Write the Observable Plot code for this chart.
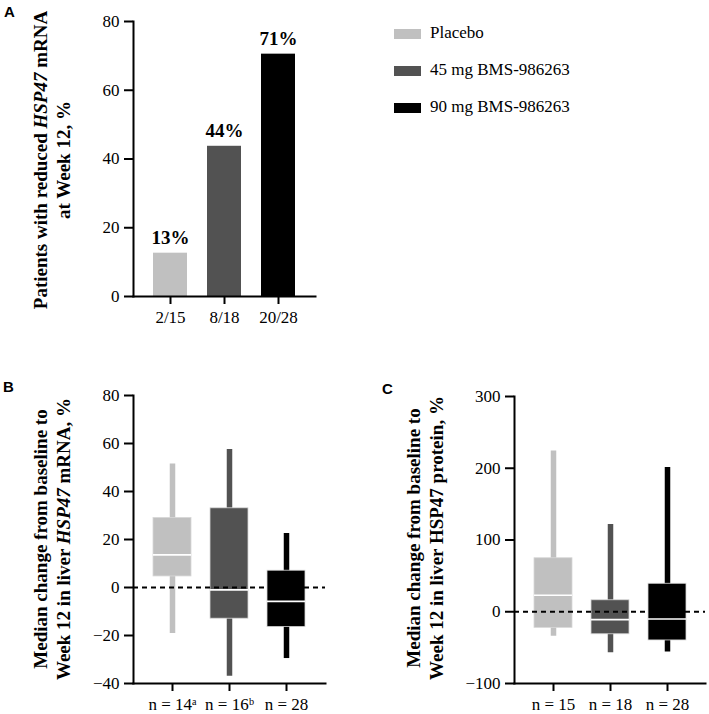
<!DOCTYPE html>
<html>
<head>
<meta charset="utf-8">
<script src="https://cdn.jsdelivr.net/npm/d3@7"></script>
<script src="https://cdn.jsdelivr.net/npm/@observablehq/plot@0.6"></script>
<style>
  body { margin: 0; background: #fff; }
  #root { position: relative; width: 709px; height: 714px; overflow: hidden; font-family: "Liberation Serif", serif; color: #000; }
  #root svg { font-family: "Liberation Serif", serif !important; font-size: 17px !important; color: #000 !important; overflow: visible; }
  .panel { position: absolute; }
  .ylab { position: absolute; text-align: center; transform: rotate(-90deg); transform-origin: center; font-family: "Liberation Serif", serif; font-weight: bold; white-space: nowrap; color: #000; }
  .letter { position: absolute; font-family: "Liberation Sans", Arial, sans-serif; font-weight: bold; font-size: 15px; }
  .leg { position: absolute; left: 394px; font-size: 17px; font-family: "Liberation Serif", serif; }
  .leg span.sw { position: absolute; left: 0; width: 27px; height: 10px; }
  .leg span.tx { position: absolute; left: 36px; white-space: nowrap; line-height: 20px; }
</style>
</head>
<body>
<div id="root"></div>
<script>
// ---- data ----
const groups = ["Placebo", "45 mg BMS-986263", "90 mg BMS-986263"];
const groupColors = ["#c0c0c0", "#525252", "#000000"];

// Panel A
const aCategories = ["2/15", "8/18", "20/28"];
const aValues = [12.6, 43.7, 70.5];
const aLabels = ["13%", "44%", "71%"];
const aTicks = [0, 20, 40, 60, 80];

// Panel B (HSP47 mRNA)
const bCategories = ["n = 14\u1d43", "n = 16\u1d47", "n = 28"];
const bMin = [-19.2, -37, -29.6];
const bQ1 = [4.6, -13, -16.5];
const bMed = [13.6, -1, -5.8];
const bQ3 = [29, 33, 7];
const bMax = [51.5, 57.5, 22.5];
const bTicks = [-40, -20, 0, 20, 40, 60, 80];

// Panel C (HSP47 protein)
const cCategories = ["n = 15", "n = 18", "n = 28"];
const cMin = [-34, -57, -56];
const cQ1 = [-22.5, -31.4, -40];
const cMed = [23, -11, -10];
const cQ3 = [74.6, 16, 39];
const cMax = [224, 121.5, 201];
const cTicks = [-100, 0, 100, 200, 300];

const root = document.getElementById("root");
const baseStyle = { background: "transparent", overflow: "visible" };

function place(el, left, top) {
  const d = document.createElement("div");
  d.className = "panel";
  d.style.left = left + "px";
  d.style.top = top + "px";
  d.appendChild(el);
  root.appendChild(d);
}

// ---- Panel A ----
const aData = aCategories.map((c, i) => ({ cat: c, value: aValues[i], label: aLabels[i], group: groups[i] }));
const plotA = Plot.plot({
  width: 330, height: 340,
  marginLeft: 133, marginRight: 15, marginTop: 21, marginBottom: 44,
  style: baseStyle,
  x: { type: "band", domain: aCategories, paddingInner: 0.376, paddingOuter: 0.36 },
  y: { domain: [0, 80] },
  color: { domain: groups, range: groupColors },
  marks: [
    Plot.barY(aData, { x: "cat", y: "value", fill: "group" }),
    Plot.text(aData, { x: "cat", y: "value", text: "label", dy: -9, lineAnchor: "bottom", fontWeight: "bold", fontSize: 19, fill: "#000" }),
    Plot.axisY({ ticks: aTicks, tickSize: 9, tickPadding: 5, strokeWidth: 2, label: null }),
    Plot.axisX({ tickSize: 8, tickPadding: 6, strokeWidth: 2, label: null }),
    Plot.frame({ anchor: "left", strokeWidth: 2 }),
    Plot.frame({ anchor: "bottom", strokeWidth: 2 })
  ]
});
place(plotA, 0, 0);

// ---- Box panels ----
function boxPanel(cats, mins, q1s, meds, q3s, maxs, ticks, domain, opts) {
  const data = cats.map((c, i) => ({ cat: c, min: mins[i], q1: q1s[i], med: meds[i], q3: q3s[i], max: maxs[i], group: groups[i] }));
  return Plot.plot({
    width: opts.width, height: opts.height,
    marginLeft: opts.marginLeft, marginRight: opts.marginRight, marginTop: opts.marginTop, marginBottom: opts.marginBottom,
    style: baseStyle,
    x: { type: "band", domain: cats, paddingInner: 0.34, paddingOuter: 0.34 },
    y: { domain },
    color: { domain: groups, range: groupColors },
    marks: [
      Plot.ruleX(data, { x: "cat", y1: "min", y2: "max", stroke: "group", strokeWidth: 5.5 }),
      Plot.barY(data, { x: "cat", y1: "q1", y2: "q3", fill: "group", stroke: "#d8d8d8", strokeWidth: 0.8 }),
      Plot.ruleY([0], { stroke: "#000", strokeWidth: 2, strokeDasharray: "5,4" }),
      Plot.tickY(data, { x: "cat", y: "med", stroke: "#fff", strokeWidth: 1.6 }),
      Plot.axisY({ ticks, tickSize: 9, tickPadding: 5, strokeWidth: 2, label: null }),
      Plot.axisX({ tickSize: 8, tickPadding: 6, strokeWidth: 2, label: null }),
      Plot.frame({ anchor: "left", strokeWidth: 2 }),
      Plot.frame({ anchor: "bottom", strokeWidth: 2 })
    ]
  });
}

const plotB = boxPanel(bCategories, bMin, bQ1, bMed, bQ3, bMax, bTicks, [-40, 80],
  { width: 335, height: 354, marginLeft: 133, marginRight: 10, marginTop: 35, marginBottom: 31 });
place(plotB, 0, 360);

const plotC = boxPanel(cCategories, cMin, cQ1, cMed, cQ3, cMax, cTicks, [-100, 300],
  { width: 349, height: 354, marginLeft: 154, marginRight: 4, marginTop: 36, marginBottom: 31 });
place(plotC, 360, 360);

// ---- Y labels ----
function ylabel(html, cx, cy, fontSize, lineHeight, width) {
  const d = document.createElement("div");
  d.className = "ylab";
  d.style.left = (cx - width / 2) + "px";
  d.style.top = (cy - lineHeight) + "px";
  d.style.width = width + "px";
  d.style.height = (2 * lineHeight) + "px";
  d.style.lineHeight = lineHeight + "px";
  d.style.fontSize = fontSize + "px";
  d.innerHTML = html;
  root.appendChild(d);
}
ylabel("Patients with reduced <i>HSP47</i> mRNA<br>at Week 12, %", 51.5, 160, 19, 23, 400);
ylabel("Median change from baseline to<br>Week 12 in liver <i>HSP47</i> mRNA, %", 51.5, 539, 19, 23, 400);
ylabel("Median change from baseline to<br>Week 12 in liver HSP47 protein, %", 425, 538, 19, 23, 400);

// ---- Panel letters ----
[["A", 4, 3], ["B", 3, 378], ["C", 382, 380]].forEach(([t, x, y]) => {
  const d = document.createElement("div");
  d.className = "letter";
  d.style.left = x + "px";
  d.style.top = y + "px";
  d.textContent = t;
  root.appendChild(d);
});

// ---- Legend ----
const legendY = [34, 71, 108];
groups.forEach((g, i) => {
  const row = document.createElement("div");
  row.className = "leg";
  row.style.top = legendY[i] + "px";
  const sw = document.createElement("span");
  sw.className = "sw";
  sw.style.background = groupColors[i];
  sw.style.top = "-5px";
  const tx = document.createElement("span");
  tx.className = "tx";
  tx.style.top = "-11px";
  tx.textContent = g;
  row.appendChild(sw);
  row.appendChild(tx);
  root.appendChild(row);
});
</script>
</body>
</html>
